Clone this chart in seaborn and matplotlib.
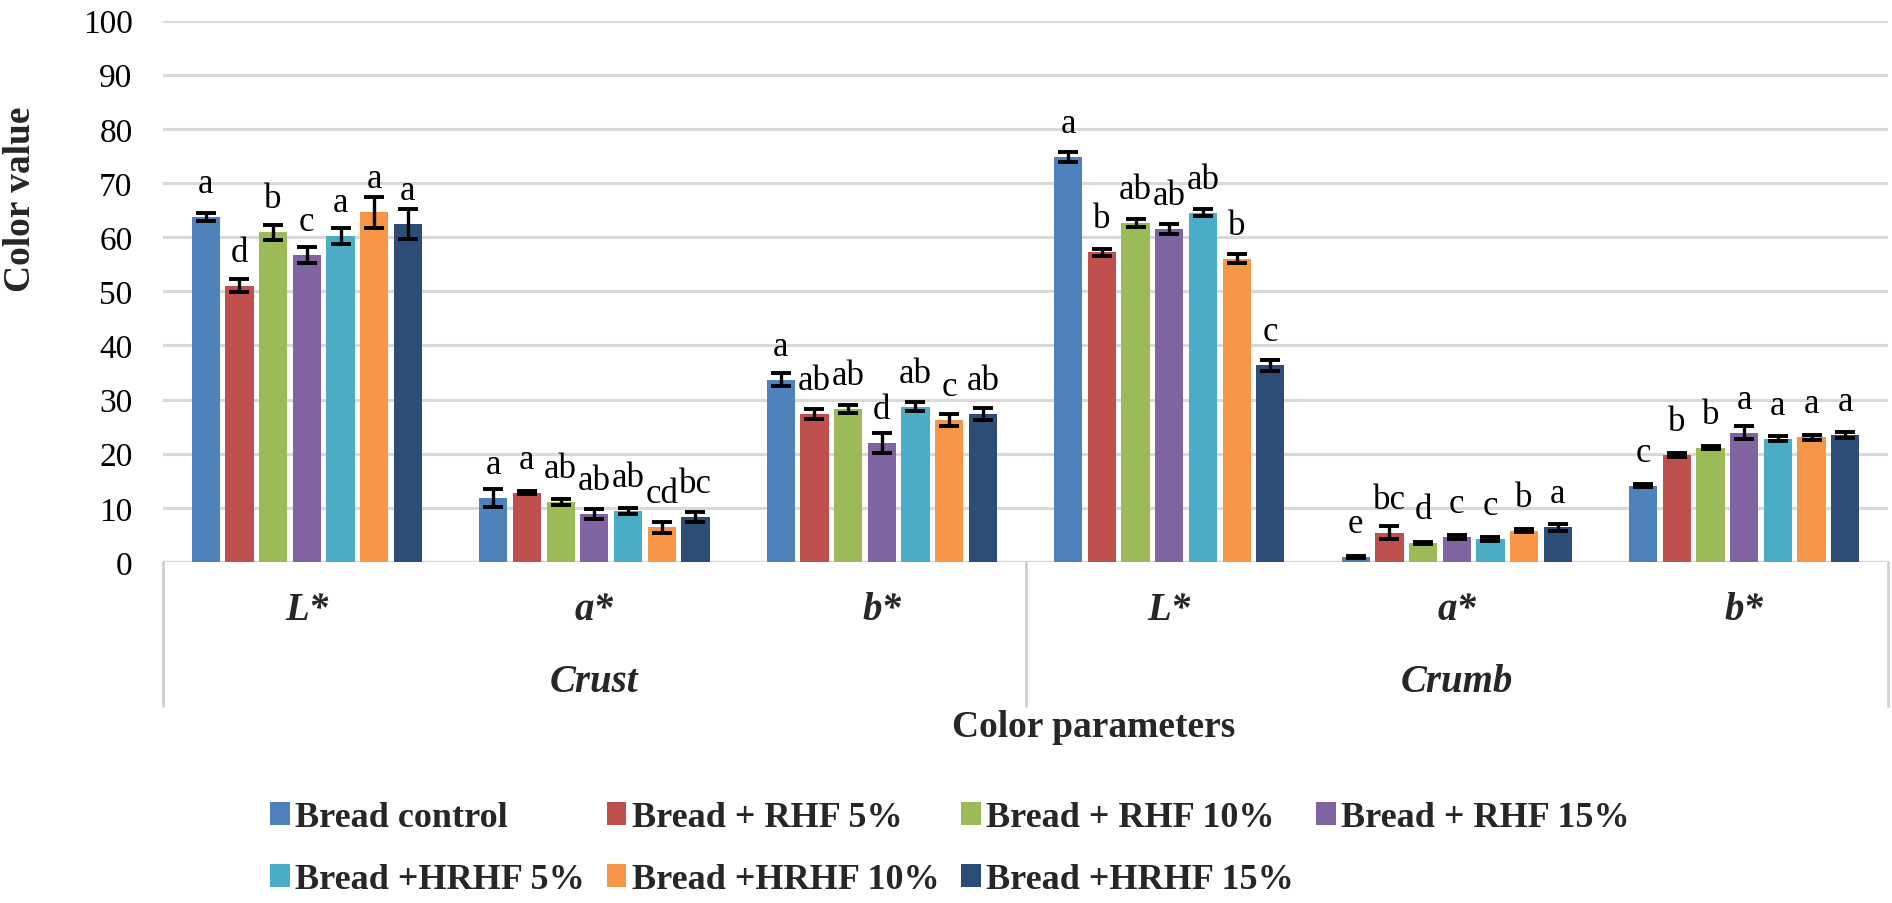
import matplotlib
matplotlib.use("Agg")
import pandas as pd
import matplotlib.pyplot as plt
import seaborn as sns

# categories
groups = ["Crust", "Crumb"]
params = ["L*", "a*", "b*"]
samples = ["Bread control", "Bread + RHF 5%", "Bread + RHF 10%", "Bread + RHF 15%",
           "Bread +HRHF 5%", "Bread +HRHF 10%", "Bread +HRHF 15%"]
colors = ["#4F81BD", "#C0504D", "#9BBB59", "#8064A2", "#4BACC6", "#F79646", "#2C4D75"]

# values per sample: Crust L*, a*, b*, Crumb L*, a*, b*
control = [63.7, 11.8, 33.7, 74.8, 1.0, 14.1]
rhf5 = [51.0, 12.8, 27.4, 57.2, 5.4, 19.8]
rhf10 = [60.9, 11.1, 28.3, 62.6, 3.5, 21.1]
rhf15 = [56.7, 8.9, 22.0, 61.5, 4.6, 23.9]
hrhf5 = [60.2, 9.4, 28.7, 64.5, 4.2, 22.8]
hrhf10 = [64.6, 6.4, 26.3, 56.0, 5.8, 23.0]
hrhf15 = [62.4, 8.3, 27.4, 36.3, 6.4, 23.5]

# standard deviations
control_sd = [0.7, 1.6, 1.2, 1.0, 0.2, 0.3]
rhf5_sd = [1.2, 0.3, 0.9, 0.6, 1.2, 0.4]
rhf10_sd = [1.4, 0.5, 0.7, 0.8, 0.2, 0.3]
rhf15_sd = [1.5, 0.9, 1.9, 0.9, 0.3, 1.2]
hrhf5_sd = [1.4, 0.6, 0.9, 0.6, 0.4, 0.4]
hrhf10_sd = [2.9, 1.0, 1.1, 0.8, 0.3, 0.5]
hrhf15_sd = [2.7, 0.9, 1.1, 1.0, 0.6, 0.6]

# significance letters
control_let = ["a", "a", "a", "a", "e", "c"]
rhf5_let = ["d", "a", "ab", "b", "bc", "b"]
rhf10_let = ["b", "ab", "ab", "ab", "d", "b"]
rhf15_let = ["c", "ab", "d", "ab", "c", "a"]
hrhf5_let = ["a", "ab", "ab", "ab", "c", "a"]
hrhf10_let = ["a", "cd", "c", "b", "b", "a"]
hrhf15_let = ["a", "bc", "ab", "c", "a", "a"]

values = [control, rhf5, rhf10, rhf15, hrhf5, hrhf10, hrhf15]
sds = [control_sd, rhf5_sd, rhf10_sd, rhf15_sd, hrhf5_sd, hrhf10_sd, hrhf15_sd]
letters = [control_let, rhf5_let, rhf10_let, rhf15_let, hrhf5_let, hrhf10_let, hrhf15_let]

keys = [g + " " + p for g in groups for p in params]
rows = []
for s, vals in zip(samples, values):
    for k, v in zip(keys, vals):
        rows.append({"key": k, "sample": s, "value": v})
df = pd.DataFrame(rows)

sns.set_theme(style="white")
plt.rcParams["font.family"] = ["Liberation Serif", "DejaVu Serif"]

fig = plt.figure(figsize=(18.92, 9.04), dpi=100)
ax = fig.add_axes([0.0862, 0.3772, 0.9117, 0.5990])

sns.barplot(data=df, x="key", y="value", hue="sample", order=keys, hue_order=samples,
            palette=colors, saturation=1, errorbar=None, width=0.82, gap=0.16,
            linewidth=0, legend=False, ax=ax)

# error bars and letters
for cont, sd, let in zip(ax.containers, sds, letters):
    xs = [p.get_x() + p.get_width() / 2 for p in cont.patches]
    ys = [p.get_height() for p in cont.patches]
    ax.errorbar(xs, ys, yerr=sd, fmt="none", ecolor="black", elinewidth=2.4,
                capsize=7, capthick=2.8, zorder=4)
    for x, y, t in zip(xs, ys, let):
        ax.annotate(t, (x, y), xytext=(0, 18), textcoords="offset points",
                    ha="center", va="baseline", fontsize=25, color="black")

ax.set_ylim(0, 100)
ax.set_xlim(-0.5, 5.5)
ax.set_yticks(range(0, 101, 10))
ax.tick_params(axis="y", length=0, pad=22, labelsize=24, labelcolor="black")
ax.set_xticks([])
ax.set_xlabel("")
ax.set_ylabel("")
ax.yaxis.grid(True, color="#D9D9D9", linewidth=2.2)
ax.set_axisbelow(True)
for sp in ax.spines.values():
    sp.set_visible(False)
ax.axhline(0, color="#D0D0D0", linewidth=2.4, zorder=0.5)

# two-level category axis
xtr = ax.get_xaxis_transform()
for xv in [-0.5, 2.5, 5.5]:
    ax.plot([xv, xv], [0, -0.266], transform=xtr, color="#D0D0D0", lw=2,
            clip_on=False)
for i, k in enumerate(keys):
    ax.text(i, -0.087, k.split(" ")[1], transform=xtr, ha="center", va="center",
            fontsize=28, fontweight="bold", fontstyle="italic")
for j, g in enumerate(groups):
    ax.text(1 + 3 * j, -0.22, g, transform=xtr, ha="center", va="center",
            fontsize=28, fontweight="bold", fontstyle="italic")

fig.text(0.578, 0.195, "Color parameters", ha="center", va="center",
         fontsize=27, fontweight="bold")
fig.text(0.011, 0.78, "Color value", ha="center", va="center", rotation=90,
         fontsize=27, fontweight="bold")

# legend laid out row by row like the original
order = [0, 4, 1, 5, 2, 6, 3]
fig.legend([ax.containers[i] for i in order], [samples[i] for i in order],
           loc="center", bbox_to_anchor=(0.502, 0.06), ncol=4, frameon=False,
           prop={"weight": "bold", "size": 26}, handlelength=0.55,
           handleheight=0.6, handletextpad=0.15, columnspacing=0.6,
           labelspacing=0.8)

fig.savefig("out.png", dpi=100)
